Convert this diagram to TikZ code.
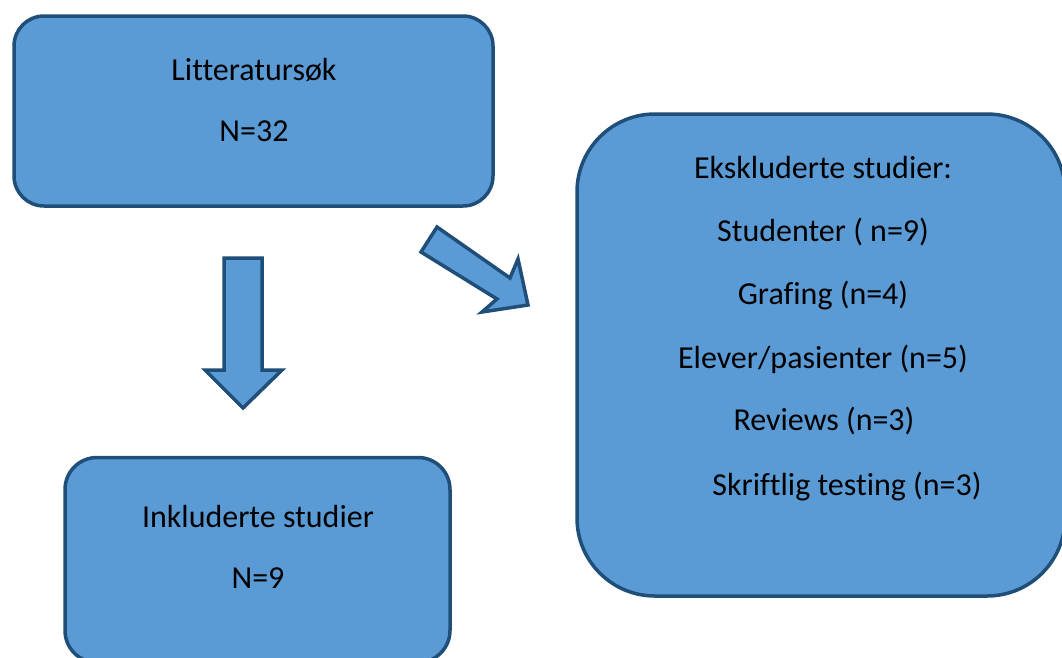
\documentclass[tikz,border=0pt]{standalone}
\usepackage{fontspec}
\setmainfont{Carlito}[Ligatures=NoCommon]
\definecolor{boxfill}{HTML}{5B9BD5}
\definecolor{boxline}{HTML}{1F4E79}
\begin{document}
\begin{tikzpicture}[x=1pt,y=-1pt,
  box/.style={draw=boxline,fill=boxfill,line width=3.5pt,inner sep=0pt},
  lbl/.style={font=\fontsize{32}{36}\selectfont,text=black,inner sep=0pt},
  blockarrow/.style={draw=boxline,fill=boxfill,line width=3.5pt,line join=miter}]
\useasboundingbox (0,0) rectangle (1062,657);
\begin{scope}
\clip (0,0) rectangle (1062,657);
\node[box,rounded corners=30pt,minimum width=479pt,minimum height=190pt] (lit) at (253.5,111) {};
\node[box,rounded corners=32pt,minimum width=385pt,minimum height=205pt] (ink) at (257.5,560) {};
\node[box,rounded corners=78pt,minimum width=488pt,minimum height=482pt] (eks) at (821,355) {};
% down arrow
\draw[blockarrow] (224,258) -- (262,258) -- (262,370) -- (282,370) -- (243,408) -- (205,370) -- (224,370) -- cycle;
% diagonal arrow
\draw[blockarrow] (437,227) -- (510,278) -- (518,259) -- (528,305) -- (482,312) -- (497,299) -- (421,252) -- cycle;
\end{scope}
\node[lbl] (t1) at (254,70) {Litteratursøk};
\node[lbl] (t2) at (254,131) {N=32};
\node[lbl] (t3) at (258,516) {Inkluderte studier};
\node[lbl] (t4) at (258,578) {N=9};
\node[lbl] (e1) at (823,168) {Ekskluderte studier:};
\node[lbl] (e2) at (823,232) {Studenter ( n=9)};
\node[lbl] (e3) at (823,296) {Grafing (n=4)};
\node[lbl] (e4) at (823,359) {Elever/pasienter (n=5)};
\node[lbl] (e5) at (824,421) {Reviews (n=3)};
\node[lbl] (e6) at (847,487) {Skriftlig testing (n=3)};
\end{tikzpicture}
\end{document}
